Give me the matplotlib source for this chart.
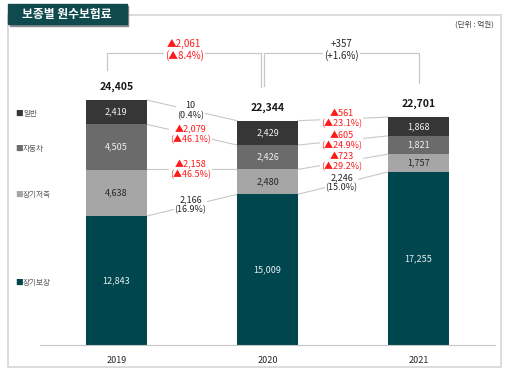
import matplotlib.pyplot as plt
from matplotlib.patches import Rectangle

plt.rcParams['font.family'] = ['Noto Sans CJK KR', 'DejaVu Sans']

years = ['2019', '2020', '2021']
categories = ['장기보장', '장기저축', '자동차', '일반']
values = {
    '장기보장': [12843, 15009, 17255],
    '장기저축': [4638, 2480, 1757],
    '자동차': [4505, 2426, 1821],
    '일반': [2419, 2429, 1868],
}
totals = [24405, 22344, 22701]

colors = {'장기보장': '#00464f', '장기저축': '#a6a6a6', '자동차': '#6b6b6b', '일반': '#363636'}
label_colors = {'장기보장': '#e8f0f0', '장기저축': '#262626', '자동차': '#f0f0f0', '일반': '#f0f0f0'}
red = '#ff1a1a'
W, H = 512, 372

fig = plt.figure(figsize=(5.12, 3.72), dpi=100)

# background overlay in pixel coords
bg = fig.add_axes([0, 0, 1, 1])
bg.set_xlim(0, W)
bg.set_ylim(H, 0)
bg.axis('off')
bg.add_patch(Rectangle((8, 15), 493, 352, fill=False, ec='#d9d9d9', lw=1.3))
bg.add_patch(Rectangle((10, 6), 118, 20, color='#8a8a8a', zorder=2))
bg.add_patch(Rectangle((8, 4), 119, 20, color='#0f4a4f', zorder=3))
bg.text(67, 14.5, '보종별 원수보험료', color='white', fontsize=8.5, fontweight='bold',
        ha='center', va='center', zorder=4)
bg.text(474, 25, '(단위 : 억원)', color='#404040', fontsize=5.5, ha='center', va='center')

ax = fig.add_axes([40 / W, 27 / H, 455 / W, 325 / H])
ax.patch.set_alpha(0)
scale = 245 / 24405
ax.set_ylim(0, 325 / scale)
ax.set_xlim(-0.505, 2.505)
x = range(len(years))
bw = 0.4

bottoms = [0, 0, 0]
bounds = []
for cat in categories:
    vals = values[cat]
    ax.bar(x, vals, bw, bottom=bottoms, color=colors[cat], zorder=2)
    for i, v in enumerate(vals):
        ax.text(i, bottoms[i] + v / 2, f'{v:,}', color=label_colors[cat], fontsize=6.5,
                ha='center', va='center', zorder=3)
    bounds.append(list(bottoms))
    bottoms = [b + v for b, v in zip(bottoms, vals)]
bounds.append(list(bottoms))

for i, t in enumerate(totals):
    ax.text(i, t + 1300, f'{t:,}', fontsize=7.5, fontweight='bold', ha='center',
            va='center', color='#1a1a1a')

# connectors between bars (upper boundary of each segment)
for i in range(2):
    for k, cat in enumerate(categories):
        y0 = bounds[k + 1][i]
        y1 = bounds[k + 1][i + 1]
        ax.plot([i + bw / 2, i + 1 - bw / 2], [y0, y1], color='#c8c8c8', lw=0.8, zorder=1)
        a, b = values[cat][i], values[cat][i + 1]
        d = b - a
        pct = abs(d) / a * 100
        if d < 0:
            s, c = f'▲{-d:,}\n(▲{pct:.1f}%)', red
        else:
            s, c = f'{d:,}\n({pct:.1f}%)', '#262626'
        ax.text(i + 0.5 - 0.01, (y0 + y1) / 2, s, color=c, fontsize=6.5, ha='center',
                va='center', linespacing=1.1, zorder=3,
                bbox=dict(fc='white', ec='none', pad=0.5))

# total change brackets
top = max(totals) + 4680
ends = [(-0.06, 0.96), (0.98, 2.0)]
lows = [(totals[0] + 3000, totals[1] + 3350), (totals[1] + 3450, totals[2] + 3400)]
for i in range(2):
    xa, xb = ends[i]
    ya, yb = lows[i]
    ax.plot([xa, xa, xb, xb], [ya, top, top, yb], color='#c8c8c8', lw=0.9, zorder=1)
    d = totals[i + 1] - totals[i]
    pct = abs(d) / totals[i] * 100
    if d < 0:
        s, c = f'▲{-d:,}\n(▲{pct:.1f}%)', red
    else:
        s, c = f'+{d:,}\n(+{pct:.1f}%)', '#262626'
    ax.text((xa + xb) / 2, top + 300, s, color=c, fontsize=7, ha='center', va='center',
            linespacing=1.1, zorder=3, bbox=dict(fc='white', ec='none', pad=1))

ax.set_xticks(list(x))
ax.set_xticklabels(years, fontsize=6.5, color='#262626')
ax.tick_params(axis='x', length=0, pad=8)
ax.set_yticks([])
for side in ['top', 'right', 'left']:
    ax.spines[side].set_visible(False)
ax.spines['bottom'].set_color('#c8c8c8')
ax.spines['bottom'].set_linewidth(0.8)

# legend on the left, beside 2019 segments
for k, cat in enumerate(categories):
    ymid = bounds[k][0] + values[cat][0] / 2
    py = 345 - ymid * scale + 2
    bg.text(15, py, '■', color=colors[cat], fontsize=5.5, ha='left', va='center')
    bg.text(23, py, cat, color='#595959', fontsize=5.5, ha='left', va='center')

plt.savefig('out.png', dpi=100)
plt.close()
